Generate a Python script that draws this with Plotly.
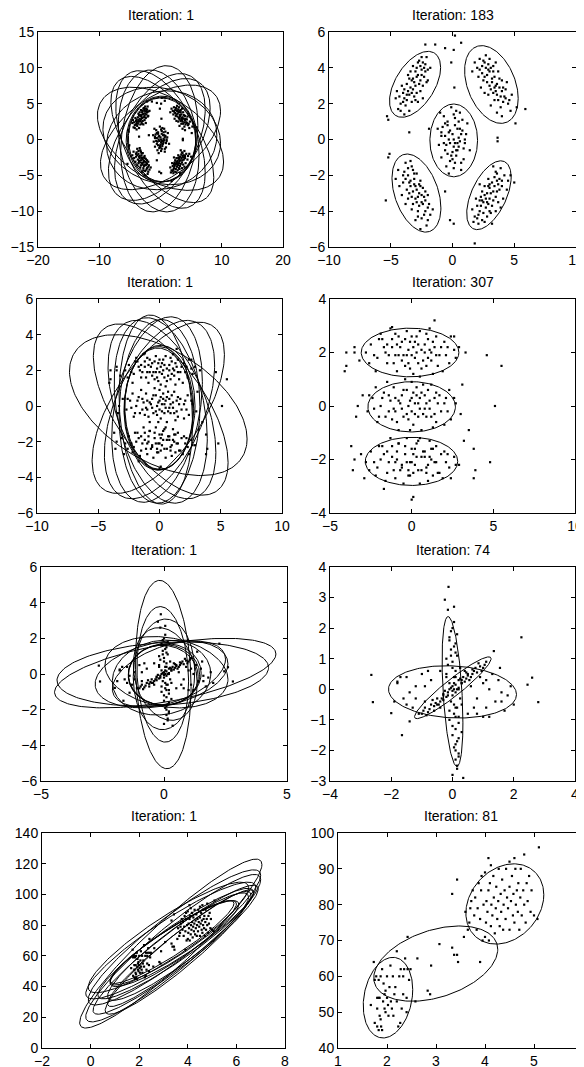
import numpy as np
import plotly.graph_objects as go

W, H = 584, 1067
OFF = 8  # the page body adds an 8px margin around the figure

# ---------------- Row 1 data: five clusters ----------------
R1_TL = [(-3.2,3.4),(-2.8,3.6),(-3.5,2.5),(-2.5,3.9),(-3.9,2.3),(-2.2,4.2),(-3.0,3.0),(-3.4,2.9),(-2.6,3.3),(-4.2,2.0),
         (-3.7,3.1),(-2.9,2.6),(-2.4,3.0),(-3.3,2.1),(-4.5,2.7),(-2.0,3.9),(-3.6,3.6),(-2.7,4.4),(-3.1,2.4),(-4.0,2.6),
         (-2.3,3.5),(-3.8,1.9),(-2.1,4.6),(-3.0,3.8),(-4.4,1.7),(-2.6,2.7),(-3.3,3.3),(-4.6,2.3),(-1.8,4.0),(-2.9,4.0),
         (-3.5,1.6),(-4.1,3.0),(-2.4,2.3),(-3.7,2.2),(-2.0,3.3),(-3.2,4.1),(-4.3,2.4),(-2.8,2.1),(-3.9,1.4),(-2.5,4.6),
         (-3.1,3.2),(-2.7,3.1),(-3.6,2.7),(-2.3,4.0),(-3.9,2.8),(-2.5,3.6),(-3.3,2.6),(-2.9,3.5),(-4.0,2.1),(-2.2,3.8),
         (-3.4,3.8),(-2.6,4.1),(-3.7,2.5),(-3.0,2.2),(-2.1,3.2),(-3.5,3.4),(-4.2,1.6),(-2.8,4.3),(-3.2,2.8),(-2.4,4.3)]
R1_TR = [(2.6,4.3),(3.0,3.8),(3.4,3.5),(2.2,4.5),(3.8,2.9),(4.2,2.4),(2.8,3.2),(3.3,4.1),(3.6,2.5),(2.4,3.7),
         (4.0,3.3),(3.1,2.8),(2.0,4.0),(4.5,2.0),(3.5,3.0),(2.7,4.7),(3.9,1.8),(2.9,2.5),(4.3,2.8),(3.2,3.4),
         (1.8,4.3),(4.7,1.6),(3.7,3.8),(2.5,3.3),(3.0,4.5),(4.1,2.1),(3.4,2.2),(2.3,2.9),(3.8,3.4),(2.9,3.9),
         (4.4,3.2),(3.6,1.5),(2.1,3.5),(3.3,2.6),(4.8,2.5),(2.6,2.6),(3.5,4.3),(4.0,1.3),(1.6,3.8),(3.1,1.9),
         (2.8,3.6),(3.2,3.2),(3.6,3.1),(2.4,4.1),(4.0,2.7),(3.0,3.0),(2.7,4.0),(3.5,2.7),(3.9,2.4),(2.2,3.9),
         (3.3,3.8),(4.3,2.3),(2.9,4.2),(3.7,2.2),(2.5,4.4),(4.1,2.9),(3.4,2.9),(2.6,3.5),(4.6,2.2),(3.1,4.0)]
R1_C = [(0.0,0.3),(-0.4,0.8),(0.5,-0.4),(0.2,1.2),(-0.6,-0.6),(0.8,0.5),(-0.2,-1.2),(0.3,-0.9),(-0.9,0.2),(0.6,1.5),
        (-0.3,0.0),(1.0,-0.2),(0.1,-1.6),(-0.7,1.3),(0.4,0.6),(-1.1,-0.3),(0.9,-1.1),(-0.1,1.8),(0.2,-0.2),(-0.5,-1.5),
        (1.2,0.9),(0.7,-1.7),(-0.8,0.7),(0.0,-0.7),(0.5,0.1),(-1.2,0.6),(0.3,1.6),(-0.3,-1.9),(1.4,-0.6),(-0.6,0.2),
        (0.8,1.1),(-0.2,0.5),(0.1,-0.4),(-0.9,-1.0),(0.6,-0.1),(1.1,0.3),(-0.4,1.0),(0.2,-1.3),(-1.0,1.5),(0.4,-0.6),
        (0.1,0.0),(-0.3,0.4),(0.4,-0.2),(0.2,0.8),(-0.5,-0.3),(0.7,0.3),(-0.1,-0.9),(0.3,-0.6),(-0.7,-0.2),(0.5,1.0),
        (-0.2,-0.2),(0.9,-0.5),(0.0,-1.1),(-0.6,0.9),(0.6,0.6),(-0.9,0.4),(0.7,-1.3),(0.1,1.4),(-0.4,-0.8),(1.0,0.0)]
R1_BL = [(-3.3,-1.5),(-3.6,-2.0),(-2.9,-2.8),(-2.5,-3.5),(-3.1,-2.2),(-2.2,-4.0),(-3.8,-1.3),(-2.7,-3.0),(-3.4,-2.6),(-2.0,-4.5),
         (-3.0,-3.3),(-4.0,-2.4),(-2.4,-2.7),(-3.5,-3.0),(-1.8,-4.2),(-2.8,-4.0),(-3.9,-1.8),(-2.3,-3.2),(-3.2,-3.6),(-4.3,-2.6),
         (-2.6,-2.3),(-1.9,-3.6),(-3.7,-2.8),(-2.1,-4.8),(-2.9,-1.9),(-3.3,-3.9),(-4.4,-1.7),(-2.5,-4.4),(-3.6,-3.3),(-2.2,-2.9),
         (-3.0,-4.5),(-4.1,-3.1),(-1.6,-3.9),(-3.4,-1.2),(-2.7,-3.7),(-3.8,-3.6),(-2.0,-3.1),(-2.6,-5.0),(-3.1,-2.5),(-4.6,-2.2),
         (-3.1,-1.9),(-3.4,-2.3),(-2.8,-3.2),(-2.6,-2.6),(-3.0,-2.6),(-2.4,-3.6),(-3.6,-1.6),(-2.9,-3.5),(-3.2,-2.9),(-2.3,-4.2),
         (-2.7,-2.5),(-3.8,-2.2),(-2.5,-3.1),(-3.3,-3.2),(-2.0,-3.8),(-3.5,-2.4),(-2.8,-4.3),(-4.0,-2.0),(-2.2,-3.4),(-3.2,-1.7)]
R1_BR = [(3.5,-1.8),(3.2,-2.4),(2.8,-3.0),(2.5,-3.5),(3.8,-2.2),(2.2,-4.0),(3.0,-2.7),(3.6,-2.9),(2.4,-4.5),(3.3,-3.4),
         (2.0,-3.7),(4.0,-2.6),(2.7,-3.8),(3.9,-1.6),(2.3,-3.2),(3.1,-4.1),(1.8,-4.3),(4.2,-2.0),(2.9,-2.2),(3.4,-2.6),
         (2.6,-4.6),(1.6,-3.9),(3.7,-3.5),(2.1,-4.7),(4.4,-2.8),(3.0,-3.3),(2.4,-2.9),(3.5,-4.0),(1.9,-3.3),(4.1,-3.3),
         (2.8,-4.3),(3.3,-1.5),(2.6,-2.6),(3.9,-3.8),(2.2,-3.4),(3.6,-2.3),(1.7,-4.6),(2.9,-3.6),(4.5,-2.3),(3.2,-4.7),
         (3.4,-2.1),(3.0,-2.5),(2.7,-3.3),(2.6,-3.1),(3.7,-2.5),(2.3,-3.7),(3.1,-3.0),(3.5,-3.2),(2.5,-4.1),(3.2,-3.7),
         (2.1,-4.2),(3.8,-2.8),(2.8,-3.5),(3.6,-1.9),(2.4,-3.4),(3.0,-4.0),(2.0,-4.4),(4.0,-2.3),(2.9,-2.6),(3.3,-2.9)]
R1_OUT = [(0.2,5.8),(0.7,5.4),(0.1,5.0),(-0.6,5.1),(-1.4,5.3),(-2.2,5.3),(-0.1,4.3),(-5.3,1.3),(-5.2,1.1),(-3.5,0.4),
          (-1.9,0.6),(0.15,2.9),(3.65,0.1),(3.65,-0.1),(5.2,1.8),(5.9,1.7),(5.1,0.9),(-5.1,-0.8),(-5.2,-1.0),(-5.4,-3.4),
          (-0.6,-2.9),(-0.2,-4.5),(0.1,-4.7),(1.8,-5.8),(5.0,-2.4),(2.2,-2.5),(4.7,-2.0)]

# ellipses: (center x, center y, half-width, half-height, correlation)
ELL_P1 = [(0.2,0.0,5.6,5.9,0.0),(0.1,0.05,5.7,6.0,0.03),(0.25,-0.05,5.5,5.85,-0.03),
          (-0.2,0.1,6.3,10.2,0.18),(0.0,0.0,7.3,9.6,-0.48),(-0.1,0.1,7.4,9.1,0.45),
          (-0.2,0.0,8.3,8.5,0.52),(0.0,0.1,10.3,7.2,-0.45),(0.0,0.3,9.8,7.3,0.5),
          (0.2,-0.1,9.0,6.9,0.1),(0.3,0.0,8.4,8.8,-0.6),(-0.3,-0.2,6.6,9.9,-0.2),(0.2,0.5,9.6,6.8,-0.15)]
ELL_P2 = [(-3.03,3.08,2.07,1.84,0.51),(3.15,3.07,2.17,2.17,-0.36),(0.1,-0.05,1.93,2.03,0.0),
          (-2.92,-2.99,1.98,2.18,-0.38),(2.95,-3.11,1.8,1.92,0.53)]

# ---------------- Row 2 data: three horizontal clusters ----------------
R2_T = [(-2.5,2.3),(-2.1,1.8),(-1.8,2.5),(-1.5,1.6),(-1.2,2.2),(-1.0,2.7),(-0.8,1.9),(-0.6,2.4),(-0.4,1.5),(-0.2,2.1),
        (0.0,2.6),(0.2,1.8),(0.4,2.3),(0.6,1.4),(0.8,2.0),(1.0,2.5),(1.2,1.7),(1.4,2.2),(1.7,1.9),(2.0,2.4),
        (2.3,1.6),(2.6,2.1),(-2.8,2.0),(-1.6,2.0),(-0.9,1.3),(-0.3,2.8),(0.5,1.1),(1.1,2.9),(1.9,1.3),(-2.2,1.3),
        (-1.3,2.9),(0.1,1.2),(0.9,2.7),(-0.5,1.9),(0.3,2.0),(1.5,2.6),(-1.9,2.7),(2.4,2.6),(-0.7,2.2),(0.7,1.7),
        (-1.1,1.6),(1.3,1.2),(-0.1,2.4),(2.9,2.2),(-3.2,1.7),
        (-2.3,1.9),(-1.7,2.2),(-1.4,1.9),(-0.9,2.3),(-0.6,1.7),(-0.2,1.6),(0.1,2.2),(0.3,2.6),(0.6,2.1),(0.9,1.5),
        (1.1,2.1),(1.3,2.4),(1.6,1.5),(1.8,2.2),(2.1,1.9),(-2.0,2.5),(-1.0,1.9),(-0.4,2.5),(0.5,2.8),(1.0,1.8),
        (-2.6,1.6),(-1.2,2.5),(0.0,1.9),(0.8,2.3),(2.2,2.2),(-0.8,2.6),(0.4,1.6),(1.5,1.9),(-1.5,2.3),(-0.3,1.9),
        (2.7,1.8),(-3.5,2.0),(0.2,2.4),(1.2,2.0),(-0.1,1.4)]
R2_M = [(-2.4,0.3),(-2.0,-0.4),(-1.7,0.5),(-1.4,-0.2),(-1.1,0.7),(-0.9,-0.6),(-0.7,0.1),(-0.5,0.6),(-0.3,-0.3),(-0.1,0.2),
        (0.1,-0.7),(0.3,0.4),(0.5,-0.1),(0.7,0.8),(0.9,-0.4),(1.1,0.2),(1.3,-0.8),(1.5,0.5),(1.8,-0.2),(2.1,0.3),
        (2.4,-0.5),(2.7,0.1),(-2.7,-0.2),(-1.5,0.9),(-0.8,-0.9),(0.0,0.9),(0.6,-0.9),(1.2,0.8),(2.0,-0.7),(-2.2,0.7),
        (-1.2,-0.5),(-0.4,1.0),(0.4,-0.4),(1.6,0.1),(-1.9,0.0),(-0.6,-0.1),(0.2,0.1),(0.8,0.4),(1.4,-0.3),(-1.0,0.3),
        (-0.2,-0.5),(2.3,0.6),(-3.0,0.4),(3.0,-0.3),(0.0,-0.2),
        (-2.3,-0.1),(-1.8,0.3),(-1.3,0.2),(-1.0,-0.2),(-0.6,0.4),(-0.3,0.6),(0.0,0.3),(0.2,-0.3),(0.5,0.3),(0.8,-0.1),
        (1.0,0.6),(1.2,-0.4),(1.5,-0.6),(1.7,0.4),(2.0,0.1),(-2.1,-0.6),(-1.1,-0.1),(-0.5,-0.4),(0.3,0.7),(0.9,0.1),
        (-2.6,0.4),(-1.6,-0.4),(-0.2,0.0),(0.6,0.5),(2.2,-0.2),(-0.8,0.2),(0.4,0.1),(1.4,0.3),(-1.4,0.4),(-0.1,-0.9),
        (2.6,0.3),(-3.4,-0.4),(0.1,0.5),(1.1,-0.1),(0.7,-0.3)]
R2_B = [(-2.5,-1.7),(-2.1,-2.3),(-1.8,-1.5),(-1.5,-2.5),(-1.2,-1.9),(-1.0,-2.7),(-0.8,-1.4),(-0.6,-2.2),(-0.4,-1.8),(-0.2,-2.6),
        (0.0,-1.6),(0.2,-2.2),(0.4,-1.3),(0.6,-2.4),(0.8,-1.9),(1.0,-2.8),(1.2,-1.6),(1.4,-2.1),(1.7,-2.5),(2.0,-1.7),
        (2.3,-2.3),(2.6,-1.9),(-2.8,-2.1),(-1.6,-2.8),(-0.9,-2.0),(-0.3,-1.2),(0.5,-2.9),(1.1,-1.3),(1.9,-2.7),(-2.2,-2.6),
        (-1.3,-1.2),(0.1,-2.5),(0.9,-2.3),(-0.5,-2.9),(0.3,-1.9),(1.5,-1.5),(-1.9,-2.0),(2.4,-2.7),(-0.7,-2.4),(0.7,-1.7),
        (-1.1,-2.4),(1.3,-2.6),(-0.1,-2.1),(2.9,-2.2),(-3.1,-1.8),
        (-2.3,-2.1),(-1.7,-1.8),(-1.4,-2.1),(-0.9,-1.7),(-0.6,-2.3),(-0.2,-2.4),(0.1,-1.8),(0.3,-1.4),(0.6,-1.9),(0.9,-2.5),
        (1.1,-1.9),(1.3,-1.6),(1.6,-2.5),(1.8,-1.8),(2.1,-2.1),(-2.0,-1.5),(-1.0,-2.1),(-0.4,-1.5),(0.5,-1.2),(1.0,-2.2),
        (-2.6,-2.4),(-1.2,-1.5),(0.0,-2.1),(0.8,-1.7),(2.2,-1.8),(-0.8,-1.4),(0.4,-2.4),(1.5,-2.1),(-1.5,-1.7),(-0.3,-2.1),
        (2.7,-2.2),(-3.5,-2.0),(0.2,-1.6),(1.2,-2.0),(-0.1,-2.6)]
R2_OUT = [(-4.0,1.5),(-4.1,1.3),(-4.0,2.0),(-3.5,2.2),(4.6,1.9),(5.5,1.5),(5.1,0.0),(3.1,0.8),(3.5,-0.9),(3.8,-1.6),
          (4.8,-2.1),(3.9,-2.4),(3.8,-2.7),(-3.7,-1.5),(-3.6,-2.4),(-2.9,-2.7),(-1.7,-3.1),(0.1,-3.4),(0.0,-3.5),(2.6,2.6),
          (1.4,3.2),(-1.2,2.95),(3.3,2.0),(-3.3,0.0),(3.2,-1.3)]

ELL_P3 = [(-0.04,-0.12,2.83,3.45,0.0),(0.0,-0.1,2.9,3.5,0.03),(-0.05,-0.15,2.78,3.4,-0.03),
          (-0.1,0.05,7.25,3.95,-0.48),(-0.2,-0.2,3.7,5.2,0.3),(0.1,-0.25,3.8,5.2,-0.3),
          (0.0,-0.3,3.3,5.15,0.05),(-0.1,-0.1,5.4,4.8,0.62),(0.1,-0.2,5.5,4.8,-0.62),
          (0.0,-0.2,4.5,5.0,0.5),(0.2,-0.2,4.4,5.0,-0.48),(-0.3,-0.2,3.0,5.3,-0.15)]
ELL_P4 = [(-0.1,2.0,2.99,0.91,0.0),(0.0,-0.03,2.68,0.94,0.0),(-0.01,-2.07,2.83,0.9,0.0)]

# ---------------- Row 3 data: crossing clusters ----------------
R3_V = [(0.0,2.0),(-0.1,1.7),(0.1,1.5),(-0.05,1.3),(0.15,1.1),(0.0,0.9),(-0.15,0.8),(0.1,0.6),(0.05,0.4),(-0.1,0.2),
        (0.2,0.0),(0.0,-0.2),(-0.05,-0.4),(0.15,-0.6),(0.05,-0.8),(-0.1,-1.0),(0.2,-1.1),(0.1,-1.3),(0.0,-1.5),(0.15,-1.7),
        (0.05,-1.9),(0.2,-2.1),(0.1,-2.3),(-0.05,1.9),(0.1,1.2),(-0.2,0.5),(0.25,-0.3),(0.0,-1.2),(0.2,-1.6),(0.1,-2.0),
        (-0.1,1.6),(0.05,1.4),(0.2,0.3),(-0.15,-0.1),(0.1,-0.9),(0.3,-1.4),(0.05,2.2),(0.15,-2.5),(-0.2,1.0),(0.25,0.7),
        (0.0,0.1),(0.05,-0.5),(-0.05,1.1),(0.1,-1.8),(0.0,0.7),(0.15,1.8),(-0.1,-0.7),(0.2,-2.2),(0.05,0.0),(0.1,0.4)]
R3_T = [(-1.0,-0.8),(-0.9,-0.6),(-0.8,-0.75),(-0.7,-0.5),(-0.6,-0.55),(-0.5,-0.3),(-0.4,-0.4),(-0.3,-0.15),(-0.2,-0.25),(-0.1,0.0),
        (0.0,-0.05),(0.1,0.15),(0.2,0.05),(0.3,0.3),(0.4,0.25),(0.5,0.45),(0.6,0.4),(0.7,0.6),(0.8,0.55),(0.9,0.75),
        (1.0,0.7),(1.1,0.9),(-0.85,-0.85),(-0.45,-0.5),(-0.25,-0.05),(0.05,0.2),(0.35,0.4),(0.65,0.5),(0.85,0.85),(-0.65,-0.35),
        (-0.35,-0.3),(0.15,0.0),(0.45,0.55),(-0.15,-0.2),(0.25,0.35),(0.55,0.3),(-0.75,-0.65),(0.95,0.6),
        (-0.55,-0.45),(-0.05,0.05),(0.45,0.35),(0.75,0.7),(-0.95,-0.7),(0.1,-0.1),(0.3,0.2),(-0.3,-0.35),(0.65,0.65),(1.05,0.8)]
R3_W = [(-1.8,0.2),(-1.6,-0.3),(-1.5,0.4),(-1.3,-0.6),(-1.2,0.1),(-1.0,0.5),(-0.9,-0.4),(-0.7,0.3),(-0.6,-0.7),(-0.4,0.6),
        (-0.3,-0.2),(0.3,-0.5),(0.5,-0.8),(0.6,0.1),(0.8,-0.3),(0.9,0.4),(1.1,-0.6),(1.2,0.0),(1.4,-0.4),(1.5,0.3),
        (1.7,-0.7),(1.8,-0.2),(1.9,0.1),(-1.9,-0.4),(-1.4,-0.1),(-0.8,0.6),(0.4,0.6),(1.0,-0.9),(1.6,-0.1),(-1.1,-0.8),
        (0.7,-0.6),(1.3,0.5),(-0.5,-0.5),(-1.7,0.4),(2.0,-0.5),(0.2,-0.9),(1.0,0.2),(-1.2,-0.3),
        (-0.2,0.4),(0.1,-0.6),(0.5,0.5),(-0.9,0.1),(1.1,0.3),(-1.5,-0.5),(1.6,-0.4),(0.3,0.2),(-0.4,-0.6),(0.8,-0.8)]
R3_OUT = [(-0.13,3.35),(-0.25,2.93),(-0.15,2.6),(0.05,2.7),(2.25,1.7),(1.35,1.25),(1.55,0.7),(2.6,0.38),(2.45,0.15),(2.8,-0.42),
          (-2.65,0.47),(-2.6,-0.42),(-2.0,-0.78),(-1.65,-1.5),(-1.4,-1.05),(0.0,-2.8),(0.35,-2.9),(0.15,-2.6),(-1.8,0.25),(1.2,-0.9)]

ELL_P5 = [(0.0,-0.05,1.45,1.7,0.0),(0.03,-0.02,1.48,1.72,0.04),(-0.03,-0.07,1.42,1.68,-0.04),
          (-0.03,-0.03,1.13,5.28,-0.13),(-0.05,-0.02,1.05,3.8,-0.1),(0.0,-0.02,1.25,3.1,0.05),
          (0.05,0.0,1.3,2.6,-0.2),(0.05,0.05,4.5,1.95,0.55),(-0.05,0.0,4.3,1.8,0.2),
          (-0.1,0.0,2.7,1.9,0.3),(0.1,0.1,2.5,2.0,-0.2),(-0.1,-0.2,2.0,2.1,0.1),(0.2,0.0,2.3,1.85,0.45)]
ELL_P6 = [(0.0,-0.07,0.34,2.45,-0.42),(0.01,0.05,1.25,1.01,0.94),(0.0,-0.085,2.09,0.855,-0.1)]

# ---------------- Row 4 data: eruption duration vs waiting time ----------------
R4_LOW = [(1.67,52),(1.73,64),(1.75,47),(1.75,59),(1.78,60),(1.8,54),(1.8,51),(1.8,46),(1.83,54),(1.83,45),
          (1.83,59),(1.85,54),(1.85,49),(1.87,48),(1.87,60),(1.88,46),(1.9,45),(1.92,53),(1.93,58),(1.95,51),
          (1.95,55),(1.97,50),(1.97,56),(2.0,54),(2.0,60),(2.02,52),(2.03,49),(2.05,57),(2.07,63),(2.08,53),
          (2.1,51),(2.12,60),(2.13,49),(2.15,55),(2.17,57),(2.2,53),(2.2,67),(2.23,46),(2.25,60),(2.27,47),
          (2.28,62),(2.3,51),(2.33,60),(2.33,55),(2.35,62),(2.37,65),(2.4,54),(2.4,50),(2.42,62),(1.9,62)]
R4_MID = [(2.42,71),(2.45,59),(2.48,62),(2.58,53),(2.62,65),(2.83,56),(2.88,55),(2.9,63),(3.07,69),(3.33,68),
          (3.37,66),(3.43,66),(3.45,64),(3.9,64),(3.33,83),(3.43,87),(3.6,78),(3.57,71),(3.65,73),(3.68,75),(3.7,79)]
R4_HIGH = [(3.72,81),(3.75,84),(3.78,77),(3.8,82),(3.83,73),(3.85,79),(3.87,86),(3.9,76),(3.92,84),(3.95,70),
           (3.97,80),(4.0,71),(4.0,89),(4.02,75),(4.03,81),(4.05,78),(4.07,84),(4.08,70),(4.1,86),(4.12,74),
           (4.13,80),(4.15,77),(4.17,88),(4.18,82),(4.2,72),(4.22,79),(4.23,85),(4.25,76),(4.27,81),(4.28,90),
           (4.3,74),(4.32,83),(4.33,78),(4.35,87),(4.37,73),(4.38,80),(4.4,84),(4.42,76),(4.43,90),(4.45,82),
           (4.47,79),(4.5,85),(4.5,73),(4.53,81),(4.55,88),(4.57,77),(4.58,83),(4.6,75),(4.62,90),(4.63,80),
           (4.65,84),(4.67,78),(4.68,86),(4.7,73),(4.72,82),(4.73,90),(4.75,77),(4.78,84),(4.8,80),(4.8,94),
           (4.83,75),(4.85,86),(4.87,81),(4.9,88),(4.93,78),(4.95,84),(5.0,77),(5.07,76),(5.1,96),(4.6,93),
           (4.07,93),(4.12,91),(3.93,88),(4.5,92)]

ELL_P7 = [(3.4,68.5,2.6,27.5,0.92),(3.45,68.0,2.65,28.0,0.91),(3.35,69.0,2.55,27.0,0.93),
          (3.3,68,3.75,55,0.935),(3.4,65,3.6,48,0.93),(3.45,72,3.55,44,0.92),(3.5,64,3.4,42,0.94),
          (3.3,70,3.5,38,0.91),(3.6,62,3.0,40,0.94),(3.5,68,3.2,36,0.93),(3.6,66,2.9,35,0.92),
          (3.2,72,3.3,36,0.9),(3.7,65,3.0,38,0.95)]
ELL_P8 = [(2.02,54.05,0.505,11.25,0.2),(2.995,63.55,1.265,10.5,0.38),(4.405,80.2,0.795,11.2,0.23)]

TITLES = ["Iteration: 1", "Iteration: 183", "Iteration: 1", "Iteration: 307",
          "Iteration: 1", "Iteration: 74", "Iteration: 1", "Iteration: 81"]
X_RANGES = [(-20, 20), (-10, 10), (-10, 10), (-5, 10), (-5, 5), (-4, 4), (-2, 8), (1, 6)]
Y_RANGES = [(-15, 15), (-6, 6), (-6, 6), (-4, 4), (-6, 6), (-3, 4), (0, 140), (40, 100)]
X_TICKS = [[-20, -10, 0, 10, 20], [-10, -5, 0, 5, 10], [-10, -5, 0, 5, 10], [-5, 0, 5, 10],
           [-5, 0, 5], [-4, -2, 0, 2, 4], [-2, 0, 2, 4, 6, 8], [1, 2, 3, 4, 5, 6]]
Y_TICKS = [[-15, -10, -5, 0, 5, 10, 15], [-6, -4, -2, 0, 2, 4, 6], [-6, -4, -2, 0, 2, 4, 6], [-4, -2, 0, 2, 4],
           [-6, -4, -2, 0, 2, 4, 6], [-3, -2, -1, 0, 1, 2, 3, 4], [0, 20, 40, 60, 80, 100, 120, 140],
           [40, 50, 60, 70, 80, 90, 100]]

ROW1 = R1_TL + R1_TR + R1_C + R1_BL + R1_BR + R1_OUT
ROW2 = R2_T + R2_M + R2_B + R2_OUT
ROW3 = R3_V + R3_T + R3_W + R3_OUT
ROW4 = R4_LOW + R4_MID + R4_HIGH
POINTS = [ROW1, ROW1, ROW2, ROW2, ROW3, ROW3, ROW4, ROW4]
ELLIPSES = [ELL_P1, ELL_P2, ELL_P3, ELL_P4, ELL_P5, ELL_P6, ELL_P7, ELL_P8]

# pixel boxes (page pixels) of the plot areas: left, right, top, bottom
BOXES = [(38, 283, 32, 247), (329, 576, 32, 247),
         (37, 282, 299, 513), (330, 575, 299, 513),
         (41, 287, 567, 781), (330, 575, 567, 781),
         (42, 285, 833, 1048), (338, 583, 833, 1048)]


def ellipse_path(params, n=200):
    t = np.linspace(0, 2 * np.pi, n)
    xs, ys = [], []
    for cx, cy, w, h, r in params:
        s = np.sqrt(1 - r * r)
        xs += list(cx + w * np.cos(t)) + [None]
        ys += list(cy + h * (r * np.cos(t) + s * np.sin(t))) + [None]
    return xs, ys


FONT = "Liberation Sans, Arial, Helvetica, sans-serif"
fig = go.Figure()
layout = dict(width=W, height=H, margin=dict(l=0, r=0, t=0, b=0, autoexpand=False),
              paper_bgcolor="white", plot_bgcolor="white", showlegend=False, template="none",
              font=dict(family=FONT, size=14, color="black"))
annotations = []

for i in range(8):
    k = "" if i == 0 else str(i + 1)
    xa, ya = "x" + k, "y" + k
    pts = POINTS[i]
    fig.add_trace(go.Scatter(x=[p[0] for p in pts], y=[p[1] for p in pts], mode="markers",
                             marker=dict(symbol="square", size=2.2, color="black", line=dict(width=0)),
                             xaxis=xa, yaxis=ya, hoverinfo="skip"))
    ex, ey = ellipse_path(ELLIPSES[i])
    fig.add_trace(go.Scatter(x=ex, y=ey, mode="lines", line=dict(color="black", width=1),
                             xaxis=xa, yaxis=ya, hoverinfo="skip"))
    l, r, t, b = [v - OFF for v in BOXES[i]]
    common = dict(showline=True, linecolor="black", linewidth=1, mirror="ticks",
                  ticks="inside", ticklen=4, tickwidth=1, tickcolor="black", automargin=False,
                  showgrid=False, zeroline=False, tickfont=dict(family=FONT, size=14, color="black"))
    layout["xaxis" + k] = dict(domain=[l / W, r / W], range=list(X_RANGES[i]), tickvals=X_TICKS[i],
                               anchor=ya, **common)
    layout["yaxis" + k] = dict(domain=[1 - b / H, 1 - t / H], range=list(Y_RANGES[i]), tickvals=Y_TICKS[i],
                               anchor=xa, **common)
    annotations.append(dict(text=TITLES[i], x=(l + r) / 2 / W, y=1 - (t - 17) / H, xref="paper", yref="paper",
                            xanchor="center", yanchor="middle", showarrow=False,
                            font=dict(family=FONT, size=14, color="black")))

layout["annotations"] = annotations
fig.update_layout(**layout)
fig.write_html("out.html")
